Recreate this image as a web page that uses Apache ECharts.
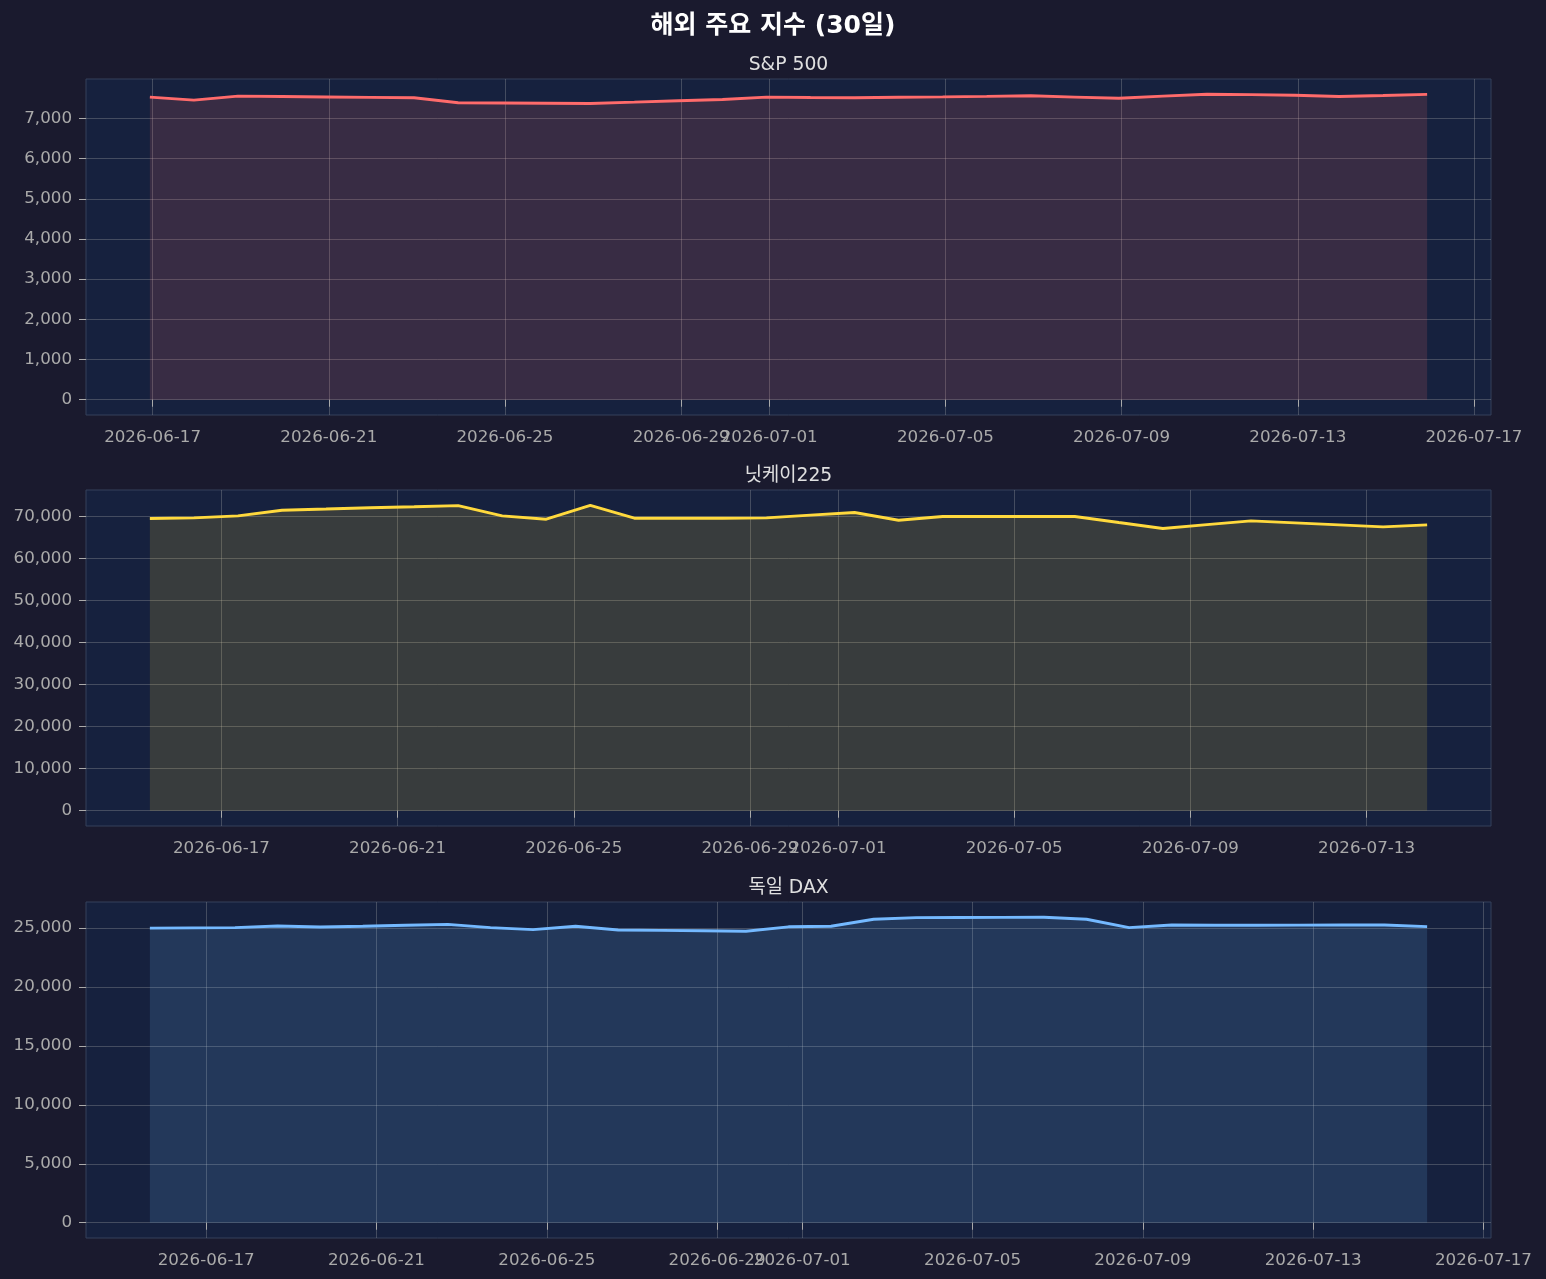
<!DOCTYPE html>
<html><head><meta charset="utf-8">
<script src="https://cdn.jsdelivr.net/npm/echarts@6/dist/echarts.min.js"></script>
<style>html,body{margin:0;padding:0;background:#1a1a2e;} #c{width:1546px;height:1279px;}</style>
</head><body><div id="c"></div>
<script>
const FONT = "'DejaVu Sans', 'Noto Sans CJK KR', sans-serif";

// ---- data ----
const spDates = ['2026-06-16','2026-06-17','2026-06-18','2026-06-19','2026-06-20','2026-06-21','2026-06-22','2026-06-23','2026-06-24','2026-06-25',
  '2026-06-26','2026-06-27','2026-06-28','2026-06-29','2026-06-30','2026-07-01','2026-07-02','2026-07-03','2026-07-04','2026-07-05',
  '2026-07-06','2026-07-07','2026-07-08','2026-07-09','2026-07-10','2026-07-11','2026-07-12','2026-07-13','2026-07-14','2026-07-15'];
const spTime = 'T22:30:00Z';
const spValues = [7529,7455,7554,7544,7534,7523,7513,7388,7383,7378,
  7372,7405,7440,7470,7530,7520,7515,7525,7535,7548,
  7562,7530,7500,7555,7600,7590,7575,7545,7570,7598];

const nkDates = ['2026-06-15','2026-06-16','2026-06-17','2026-06-18','2026-06-19','2026-06-20','2026-06-21','2026-06-22','2026-06-23','2026-06-24',
  '2026-06-25','2026-06-26','2026-06-27','2026-06-28','2026-06-29','2026-06-30','2026-07-01','2026-07-02','2026-07-03','2026-07-04',
  '2026-07-05','2026-07-06','2026-07-07','2026-07-08','2026-07-09','2026-07-10','2026-07-11','2026-07-12','2026-07-13','2026-07-14'];
const nkTime = 'T09:00:00Z';
const nkValues = [69450,69600,70070,71420,71700,72000,72250,72520,70070,69290,
  72600,69530,69530,69530,69600,70250,70870,69050,69920,69920,
  69920,69920,68500,67090,68000,68890,68420,67950,67470,67940];

const daxDates = ['2026-06-15','2026-06-16','2026-06-17','2026-06-18','2026-06-19','2026-06-20','2026-06-21','2026-06-22','2026-06-23','2026-06-24',
  '2026-06-25','2026-06-26','2026-06-27','2026-06-28','2026-06-29','2026-06-30','2026-07-01','2026-07-02','2026-07-03','2026-07-04',
  '2026-07-05','2026-07-06','2026-07-07','2026-07-08','2026-07-09','2026-07-10','2026-07-11','2026-07-12','2026-07-13','2026-07-14','2026-07-15'];
const daxTime = 'T16:15:00Z';
const daxValues = [24990,25010,25030,25170,25085,25150,25230,25310,25030,24860,
  25145,24830,24800,24770,24720,25100,25150,25740,25880,25890,
  25900,25910,25740,25030,25255,25230,25230,25240,25250,25255,25120];

const xTickLabels = ['2026-06-13','2026-06-17','2026-06-21','2026-06-25','2026-06-29','2026-07-01','2026-07-05','2026-07-09','2026-07-13','2026-07-17'];
const spYTicks = [0,1000,2000,3000,4000,5000,6000,7000];
const nkYTicks = [0,10000,20000,30000,40000,50000,60000,70000];
const daxYTicks = [0,5000,10000,15000,20000,25000];

const titles = ['S&P 500', '닛케이225', '독일 DAX'];
const mainTitle = '해외 주요 지수 (30일)';

// ---- build ----
const panels = [
  {dates: spDates, time: spTime, values: spValues, yTicks: spYTicks, color: '#ff6b6b', fill: 'rgba(255,107,107,0.15)'},
  {dates: nkDates, time: nkTime, values: nkValues, yTicks: nkYTicks, color: '#ffd93d', fill: 'rgba(255,217,61,0.15)'},
  {dates: daxDates, time: daxTime, values: daxValues, yTicks: daxYTicks, color: '#74b9ff', fill: 'rgba(116,185,255,0.15)'}
];
const gridTops = [79, 490, 902];
const gridH = 336;
const LABEL = '#aaaaaa';
const GRIDC = 'rgba(176,176,176,0.3)';

const grids = [], xAxes = [], yAxes = [], series = [], titleArr = [];
titleArr.push({text: mainTitle, left: 773, top: 14, textAlign: 'center', padding: 0,
  textStyle: {color: '#ffffff', fontSize: 25, fontWeight: 'bold', fontFamily: FONT}});

panels.forEach((p, i) => {
  const ts = p.dates.map(d => Date.parse(d + p.time));
  const x0 = ts[0], x1 = ts[ts.length - 1], span = x1 - x0;
  const xmin = x0 - 0.05 * span, xmax = x1 + 0.05 * span;
  const ticks = xTickLabels.map(d => Date.parse(d + 'T00:00:00Z')).filter(t => t >= xmin && t <= xmax);
  const vmax = Math.max(...p.values);
  const ymin = -0.05 * vmax, ymax = 1.05 * vmax;

  grids.push({left: 86, width: 1405, top: gridTops[i], height: gridH, show: true,
    backgroundColor: '#16213e', borderColor: '#34405a', borderWidth: 1});
  xAxes.push({type: 'value', gridIndex: i, min: xmin, max: xmax,
    axisLine: {show: false},
    axisTick: {show: true, customValues: ticks, length: 7, lineStyle: {color: LABEL}},
    axisLabel: {customValues: ticks, color: LABEL, fontSize: 16.7, fontFamily: FONT, margin: 14,
      formatter: v => new Date(v).toISOString().slice(0, 10)},
    splitLine: {show: true, lineStyle: {color: GRIDC, width: 1}}
  });
  yAxes.push({type: 'value', gridIndex: i, min: ymin, max: ymax,
    axisLine: {show: false},
    axisTick: {show: true, customValues: p.yTicks, length: 7, lineStyle: {color: LABEL}},
    axisLabel: {customValues: p.yTicks, color: LABEL, fontSize: 16.7, fontFamily: FONT, margin: 14,
      formatter: v => Math.round(v).toLocaleString('en-US')},
    splitLine: {show: true, lineStyle: {color: GRIDC, width: 1}}
  });
  series.push({type: 'line', xAxisIndex: i, yAxisIndex: i,
    data: ts.map((t, k) => [t, p.values[k]]),
    showSymbol: false, symbol: 'none',
    lineStyle: {color: p.color, width: 2.9},
    itemStyle: {color: p.color},
    areaStyle: {color: p.fill, opacity: 1, origin: 'auto'},
    animation: false
  });
  titleArr.push({text: titles[i], left: 788.5, top: gridTops[i] - 23, textAlign: 'center', padding: 0,
    textStyle: {color: '#e0e0e0', fontSize: 18.75, fontWeight: 'normal', fontFamily: FONT}});
});

const chart = echarts.init(document.getElementById('c'), null, {renderer: 'canvas'});
chart.setOption({
  backgroundColor: '#1a1a2e',
  animation: false,
  title: titleArr,
  grid: grids,
  xAxis: xAxes,
  yAxis: yAxes,
  series: series
});
</script>
</body></html>
